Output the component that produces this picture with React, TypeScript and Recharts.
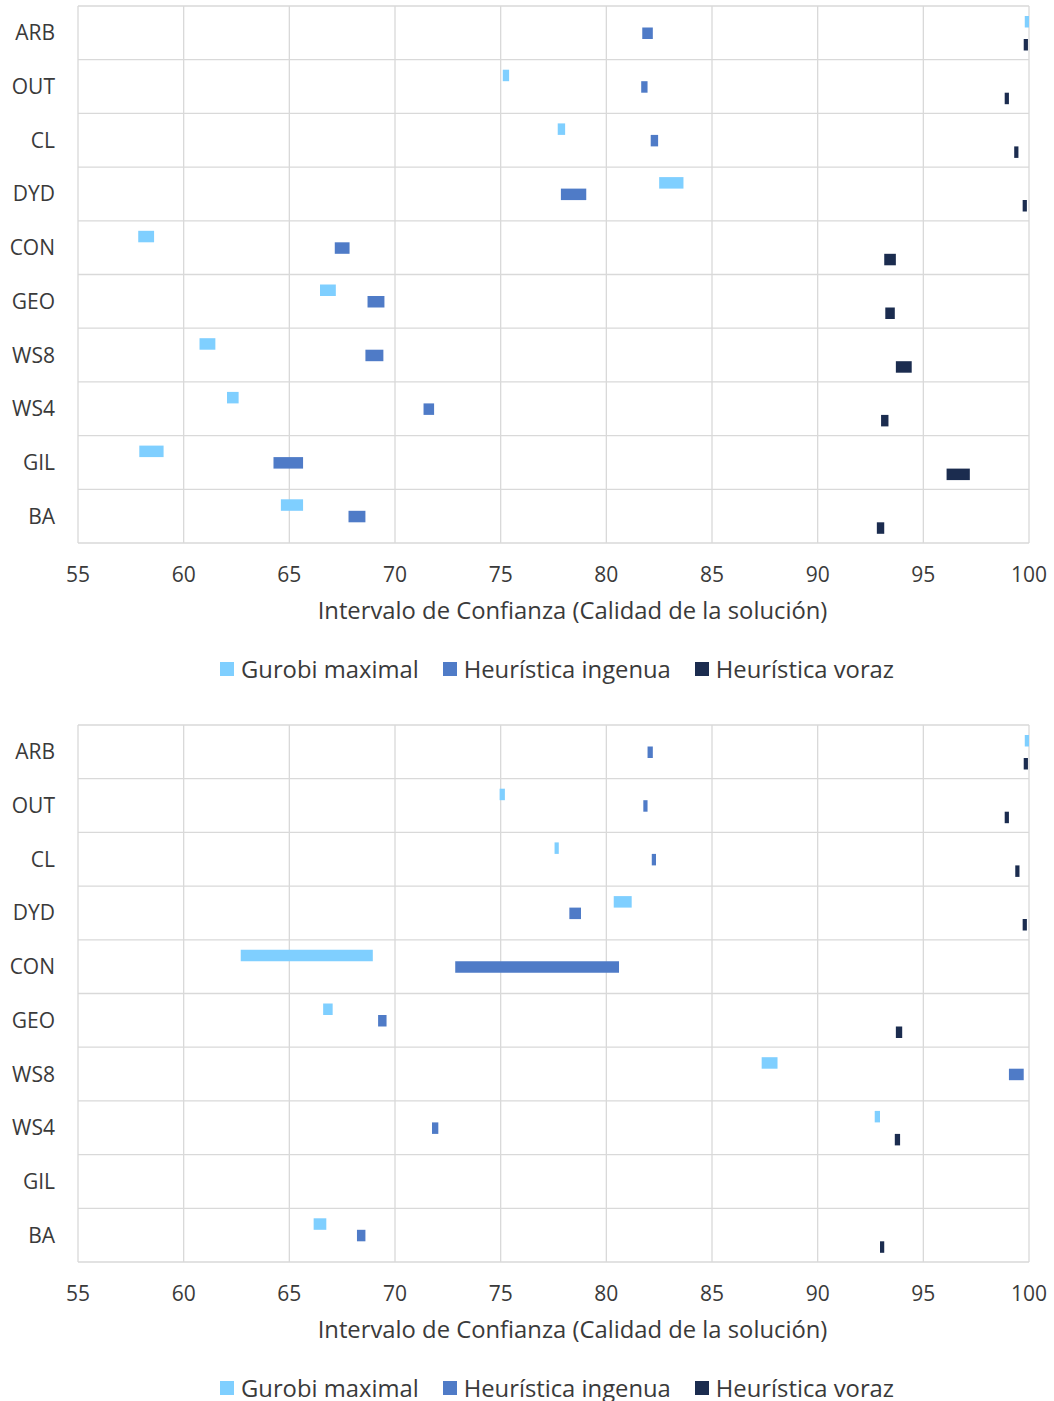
import { BarChart, Bar, XAxis, YAxis, CartesianGrid, Legend, Label } from 'recharts'

const categories = ['ARB', 'OUT', 'CL', 'DYD', 'CON', 'GEO', 'WS8', 'WS4', 'GIL', 'BA']
const xTicks = [55, 60, 65, 70, 75, 80, 85, 90, 95, 100]
const seriesNames = ['Gurobi maximal', 'Heurística ingenua', 'Heurística voraz']
const seriesColors = ['#7FCFFF', '#4F7BC7', '#1B2C4F']

// primer gráfico: límites inferior / superior de cada intervalo
const gurobiTopLo = [99.8, 75.1, 77.7, 82.5, 57.85, 66.45, 60.75, 62.05, 57.9, 64.6]
const gurobiTopHi = [100, 75.4, 78.05, 83.65, 58.6, 67.2, 61.5, 62.6, 59.05, 65.65]
const ingenuaTopLo = [81.7, 81.65, 82.1, 77.85, 67.15, 68.7, 68.6, 71.35, 64.25, 67.8]
const ingenuaTopHi = [82.2, 81.95, 82.45, 79.05, 67.85, 69.5, 69.45, 71.85, 65.65, 68.6]
const vorazTopLo = [99.75, 98.85, 99.3, 99.7, 93.15, 93.2, 93.7, 93.0, 96.1, 92.8]
const vorazTopHi = [99.95, 99.05, 99.5, 99.9, 93.7, 93.65, 94.45, 93.35, 97.2, 93.15]

// segundo gráfico
const gurobiBotLo = [99.8, 74.95, 77.55, 80.35, 62.7, 66.6, 87.35, 92.7, null, 66.15]
const gurobiBotHi = [100, 75.2, 77.75, 81.2, 68.95, 67.05, 88.1, 92.95, null, 66.75]
const ingenuaBotLo = [81.95, 81.75, 82.15, 78.25, 72.85, 69.2, 99.05, 71.75, null, 68.2]
const ingenuaBotHi = [82.2, 81.95, 82.35, 78.8, 80.6, 69.6, 99.75, 72.05, null, 68.6]
const vorazBotLo = [99.75, 98.85, 99.35, 99.7, null, 93.7, null, 93.65, null, 92.95]
const vorazBotHi = [99.95, 99.05, 99.55, 99.9, null, 94.0, null, 93.9, null, 93.15]

type Num = number | null

const range = (lo: Num, hi: Num) => (lo == null || hi == null ? null : [lo, hi])

function buildRows(gLo: Num[], gHi: Num[], iLo: Num[], iHi: Num[], vLo: Num[], vHi: Num[]) {
  return categories.map((cat, i) => ({
    cat,
    gurobi: range(gLo[i], gHi[i]),
    ingenua: range(iLo[i], iHi[i]),
    voraz: range(vLo[i], vHi[i]),
  }))
}

const topRows = buildRows(gurobiTopLo, gurobiTopHi, ingenuaTopLo, ingenuaTopHi, vorazTopLo, vorazTopHi)
const bottomRows = buildRows(gurobiBotLo, gurobiBotHi, ingenuaBotLo, ingenuaBotHi, vorazBotLo, vorazBotHi)

const textColor = '#3A3A3A'

const AxisTitle = (props: any) => {
  const { x, y, width, height } = props.viewBox
  return (
    <text x={x + width / 2 + 19} y={y + height - 35} textAnchor="middle" fontSize={23.8} fill={textColor}>
      Intervalo de Confianza (Calidad de la solución)
    </text>
  )
}

const LegendContent = (props: any) => (
  <div
    style={{
      display: 'flex',
      justifyContent: 'center',
      alignItems: 'center',
      height: 30,
      fontSize: 23.8,
      color: textColor,
    }}
  >
    {(props.payload || []).map((p: any, i: number) => (
      <span key={i} style={{ display: 'flex', alignItems: 'center', marginRight: i < 2 ? 24 : 0 }}>
        <span style={{ display: 'inline-block', width: 14, height: 14, background: p.color, marginRight: 7 }} />
        {p.value}
      </span>
    ))}
  </div>
)

// líneas horizontales en los límites de cada categoría
const bandLines = ({ offset, height }: any) => {
  const h = offset.height ?? height - offset.top - offset.bottom
  const n = categories.length
  return Array.from({ length: n + 1 }, (_, i) => offset.top + (i * h) / n)
}

function IntervalChart({ rows }: { rows: any[] }) {
  return (
    <BarChart
      width={1054}
      height={720}
      data={rows}
      layout="vertical"
      margin={{ top: 6, right: 25, left: 0, bottom: 36 }}
      barSize={11.5}
      barGap={0}
    >
      <CartesianGrid stroke="#D9D9D9" strokeWidth={1.3} horizontalCoordinatesGenerator={bandLines} />
      <XAxis
        type="number"
        domain={[55, 100]}
        ticks={xTicks}
        interval={0}
        axisLine={false}
        tickLine={false}
        tickSize={0}
        tickMargin={24}
        height={111}
        tick={{ fill: textColor, fontSize: 21 }}
      >
        <Label content={AxisTitle} />
      </XAxis>
      <YAxis
        type="category"
        dataKey="cat"
        width={78}
        interval={0}
        axisLine={false}
        tickLine={false}
        tickSize={0}
        tickMargin={23}
        tick={{ fill: textColor, fontSize: 21 }}
      />
      <Legend verticalAlign="bottom" content={LegendContent} wrapperStyle={{ left: 200, width: 714 }} />
      <Bar dataKey="gurobi" name={seriesNames[0]} fill={seriesColors[0]} isAnimationActive={false} />
      <Bar dataKey="ingenua" name={seriesNames[1]} fill={seriesColors[1]} isAnimationActive={false} />
      <Bar dataKey="voraz" name={seriesNames[2]} fill={seriesColors[2]} isAnimationActive={false} />
    </BarChart>
  )
}

export default function App() {
  return (
    <div
      style={{
        position: 'absolute',
        left: 0,
        top: 0,
        width: 1054,
        height: 1401,
        overflow: 'hidden',
        background: '#fff',
        fontFamily: '"Open Sans", sans-serif',
      }}
    >
      <div style={{ position: 'absolute', left: 0, top: 0 }}>
        <IntervalChart rows={topRows} />
      </div>
      <div style={{ position: 'absolute', left: 0, top: 719 }}>
        <IntervalChart rows={bottomRows} />
      </div>
    </div>
  )
}
